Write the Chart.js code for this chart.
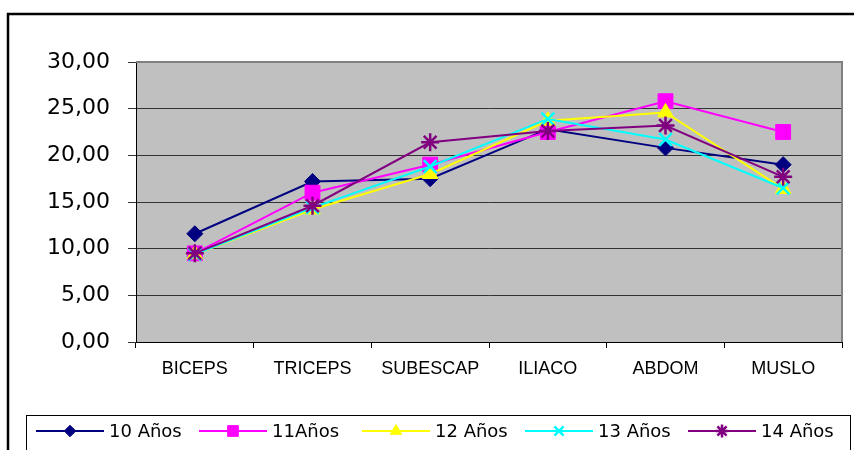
<!DOCTYPE html>
<html>
<head>
<meta charset="utf-8">
<script src="https://cdn.jsdelivr.net/npm/chart.js@4/dist/chart.umd.min.js"></script>
<style>
  html, body { margin: 0; padding: 0; background: #fff; }
  #wrap { width: 854px; height: 450px; position: relative; }
</style>
</head>
<body>
<div id="wrap"><canvas id="c" width="854" height="450"></canvas></div>
<script>
// ---- data ----
const categories = ["BICEPS", "TRICEPS", "SUBESCAP", "ILIACO", "ABDOM", "MUSLO"];
const seriesNames = ["10 Años", "11Años", "12 Años", "13 Años", "14 Años"];
const anos10 = [11.6, 17.2, 17.5, 22.8, 20.8, 19.0];
const anos11 = [9.5, 16.0, 19.0, 22.5, 25.8, 22.5];
const anos12 = [9.4, 14.2, 18.0, 23.7, 24.6, 16.4];
const anos13 = [9.4, 14.4, 18.8, 23.9, 21.7, 16.5];
const anos14 = [9.5, 14.6, 21.4, 22.6, 23.2, 17.7];
const yMin = 0, yMax = 30, yStep = 5;

// ---- styles ----
const seriesValues = [anos10, anos11, anos12, anos13, anos14];
const colors = ["#000080", "#FF00FF", "#FFFF00", "#00FFFF", "#800080"];
const pointStyles = ["rectRot", "rect", "triangle", "crossRot", "star"];
const radii = [8, 10.5, 9, 9, 9];
const filled = [true, true, true, false, false];

const datasets = seriesValues.map((vals, i) => ({
  label: seriesNames[i],
  data: vals,
  borderColor: colors[i],
  backgroundColor: colors[i],
  borderWidth: 2,
  pointStyle: pointStyles[i],
  pointRadius: radii[i],
  pointHoverRadius: radii[i],
  pointBorderWidth: filled[i] ? 1 : 2.5,
  pointBackgroundColor: colors[i],
  pointBorderColor: colors[i],
  tension: 0,
  order: seriesValues.length - i
}));

const plotDecor = {
  id: 'plotDecor',
  beforeDraw(chart) {
    const { ctx, chartArea: a } = chart;
    ctx.save();
    ctx.fillStyle = '#fff';
    ctx.fillRect(0, 0, chart.width, chart.height);
    ctx.fillStyle = '#C0C0C0';
    ctx.fillRect(a.left, a.top, a.right - a.left, a.bottom - a.top);
    ctx.restore();
  },
  beforeDatasetsDraw(chart) {
    const { ctx, chartArea: a } = chart;
    ctx.save();
    ctx.strokeStyle = '#808080';
    ctx.lineWidth = 2;
    ctx.beginPath();
    ctx.moveTo(a.left, a.top);
    ctx.lineTo(a.right, a.top);
    ctx.lineTo(a.right, a.bottom);
    ctx.stroke();
    ctx.restore();
  },
  afterDraw(chart) {
    const ctx = chart.ctx;
    ctx.save();
    // outer chart border (extends beyond the picture to the right and bottom)
    ctx.strokeStyle = '#000';
    ctx.lineWidth = 2.5;
    ctx.strokeRect(8, 14, 900, 500);
    // legend box
    const boxL = 26, boxT = 415;
    ctx.lineWidth = 1;
    ctx.strokeStyle = '#000';
    ctx.strokeRect(boxL + 0.5, boxT + 0.5, 850 - boxL, 60);
    const cy = 431;
    const entryW = 163;
    ctx.font = '18px "DejaVu Sans"';
    ctx.textBaseline = 'middle';
    ctx.textAlign = 'left';
    chart.data.datasets.forEach((ds, i) => {
      const x0 = boxL + 10 + i * entryW;
      const x1 = x0 + 68;
      ctx.strokeStyle = ds.borderColor;
      ctx.lineWidth = 2;
      ctx.beginPath();
      ctx.moveTo(x0, cy);
      ctx.lineTo(x1, cy);
      ctx.stroke();
      ctx.fillStyle = ds.backgroundColor;
      ctx.strokeStyle = ds.borderColor;
      ctx.lineWidth = ds.pointBorderWidth;
      if (Chart.helpers && Chart.helpers.drawPoint) {
        Chart.helpers.drawPoint(ctx, {
          pointStyle: ds.pointStyle,
          radius: ds.pointRadius * 0.72,
          rotation: 0,
          borderWidth: ds.pointBorderWidth
        }, (x0 + x1) / 2, cy);
      }
      ctx.fillStyle = '#000';
      ctx.fillText(ds.label, x1 + 5, cy + 1);
    });
    ctx.restore();
  }
};

new Chart(document.getElementById('c'), {
  type: 'line',
  data: { labels: categories, datasets },
  options: {
    responsive: false,
    animation: false,
    events: [],
    layout: { padding: { left: 0, right: 12, top: 62, bottom: 0 } },
    plugins: { legend: { display: false }, tooltip: { enabled: false }, title: { display: false } },
    scales: {
      x: {
        type: 'category',
        offset: true,
        grid: {
          offset: true,
          drawOnChartArea: false,
          drawTicks: true,
          tickLength: 6,
          color: '#000',
          lineWidth: 1
        },
        border: { color: '#000', width: 1 },
        ticks: {
          color: '#000',
          padding: 10,
          maxRotation: 0,
          autoSkip: false,
          font: { family: '"Liberation Sans", Arial, sans-serif', size: 18 }
        },
        afterFit(s) { s.height = 108; }
      },
      y: {
        min: yMin,
        max: yMax,
        grid: {
          color: '#333',
          lineWidth: 1,
          drawTicks: true,
          tickLength: 8
        },
        border: { color: '#000', width: 1 },
        ticks: {
          stepSize: yStep,
          color: '#000',
          padding: 18,
          font: { family: '"DejaVu Sans", sans-serif', size: 22 },
          callback: (v) => Number(v).toFixed(2).replace('.', ',')
        },
        afterFit(s) { s.width = 136; }
      }
    }
  },
  plugins: [plotDecor]
});
</script>
</body>
</html>
